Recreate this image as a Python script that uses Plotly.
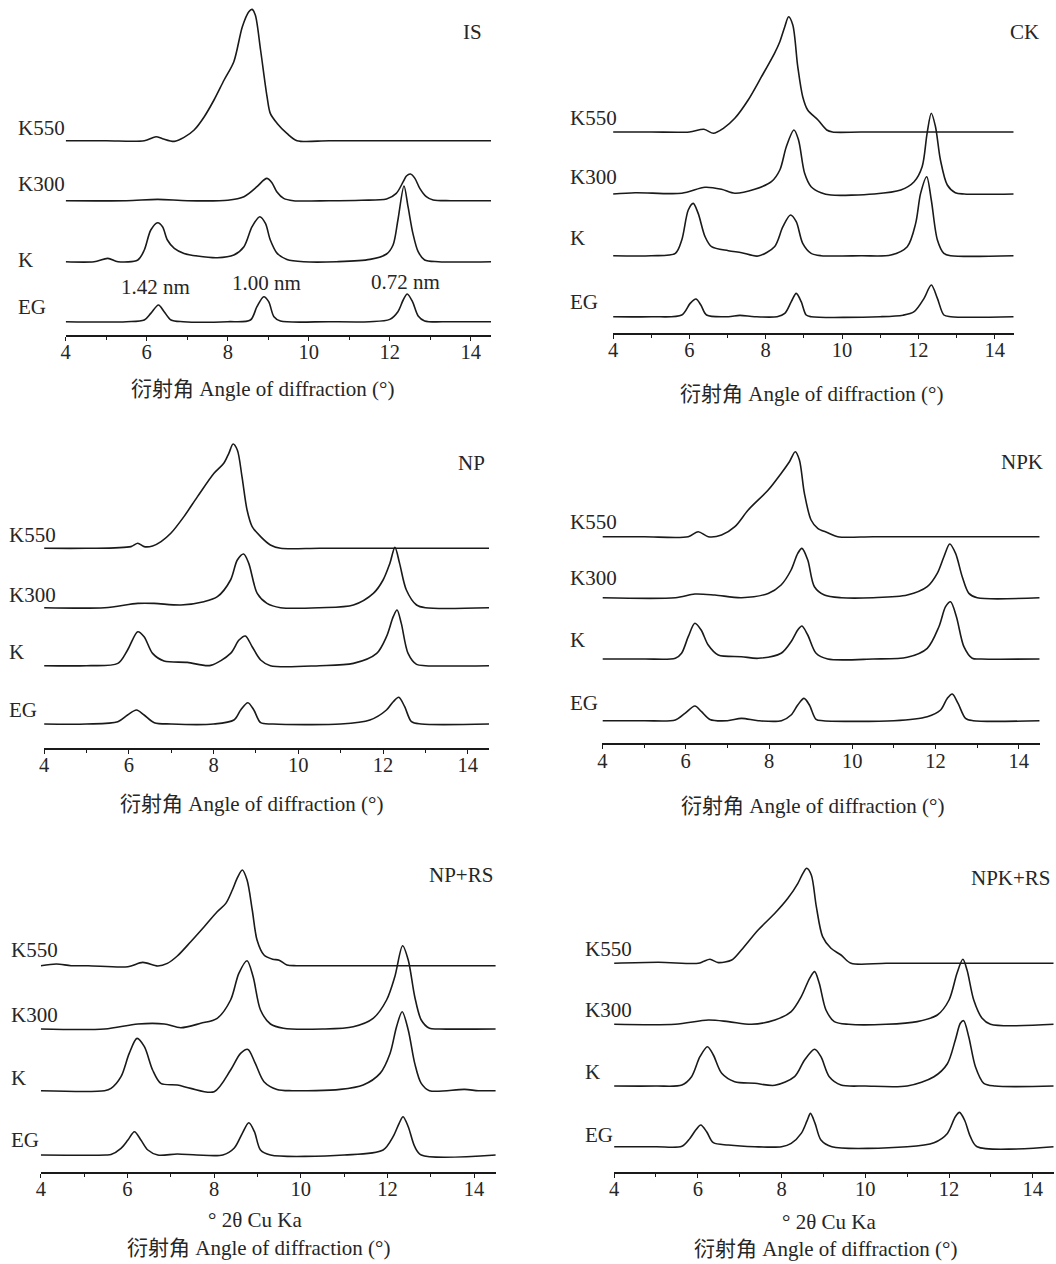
import plotly.graph_objects as go

# ---------------- data (2θ in degrees, intensity in arbitrary units above each trace baseline) -------------
SERIES = ["K550", "K300", "K", "EG"]
PANEL_NAMES = ["IS", "CK", "NP", "NPK", "NP+RS", "NPK+RS"]
X_TICKS = [4, 6, 8, 10, 12, 14]
D_SPACING = ["1.42 nm", "1.00 nm", "0.72 nm"]

IS_K550 = [(4.0,0),(5.0,0),(5.94,0),(6.23,4),(6.39,2),(6.68,-0.7),(6.92,3.3),(7.17,10.7),(7.42,24),(7.66,40.7),(7.91,60.7),(8.15,79),(8.36,114),(8.52,129),(8.6,131.3),(8.68,125.7),(8.81,90.7),(8.97,44),(9.05,27.3),(9.22,17.3),(9.46,7.3),(9.71,0),(10.5,0),(12.0,0),(13.5,0),(14.5,0)]
IS_K300 = [(4.0,0),(5.5,0),(6.27,1.3),(7.0,0),(8.0,0.5),(8.4,4),(8.72,14),(8.89,20.7),(8.97,22.3),(9.09,18),(9.21,9),(9.38,2.3),(9.62,0),(10.5,0),(11.3,0.5),(11.92,1.7),(12.16,7.3),(12.33,19),(12.41,24.7),(12.51,26.7),(12.62,22.3),(12.74,12.3),(12.9,4),(13.07,0.7),(13.5,0),(14.5,0)]
IS_K = [(4.0,0),(4.7,0),(5.04,3.3),(5.29,0),(5.78,1.7),(5.94,11.7),(6.1,31.7),(6.27,39),(6.39,35),(6.51,21.7),(6.68,13.3),(6.92,8.3),(7.25,5.7),(7.74,4),(8.15,6.7),(8.4,15),(8.6,35),(8.79,45),(8.93,38.3),(9.05,21.7),(9.22,8.3),(9.46,2.3),(9.87,0),(10.69,0),(11.51,2.3),(11.92,7.7),(12.08,16.7),(12.2,41.7),(12.35,75.7),(12.45,55),(12.57,28.3),(12.7,10),(12.86,1.7),(13.2,0),(14.5,0)]
IS_EG = [(4.0,0),(5.5,0),(5.94,1.7),(6.1,8.3),(6.29,16.7),(6.43,10),(6.6,1.7),(6.9,0),(8.0,0),(8.56,1.7),(8.72,15),(8.89,25),(9.01,20),(9.14,5),(9.3,0.7),(10.5,0),(11.5,0),(12.0,2.3),(12.2,10),(12.33,21.7),(12.43,27.7),(12.56,20),(12.7,5.7),(12.86,0.7),(13.5,0),(14.5,0)]
IS_BASE = [194.3, 134.3, 73.3, 13.3]

CK_K550 = [(4.0,0),(5.0,0),(6.0,0),(6.38,2.7),(6.63,-1.3),(6.89,3.7),(7.19,13.7),(7.54,32),(7.89,55.3),(8.23,78.7),(8.37,90.3),(8.5,105.3),(8.6,115.3),(8.71,107),(8.84,65.3),(8.97,35.3),(9.1,22),(9.37,12),(9.6,2),(9.75,0),(10.5,0),(12.0,0),(13.5,0),(14.5,0)]
CK_K300 = [(4.0,0),(4.58,1.3),(5.8,0.7),(6.41,6.7),(6.84,4.7),(7.19,0.7),(7.71,4.7),(8.15,12.3),(8.37,24),(8.54,47.3),(8.74,64),(8.86,54),(9.02,20.7),(9.19,7.3),(9.45,1.3),(9.71,-1),(10.84,0),(11.54,4),(11.89,12.3),(12.1,27.3),(12.23,60.7),(12.34,80.7),(12.45,67.3),(12.58,34),(12.76,9),(12.97,1.3),(13.2,0),(14.5,0)]
CK_K = [(4.0,0),(5.0,0),(5.63,2.3),(5.8,15.7),(5.97,45.7),(6.1,52.3),(6.23,42.3),(6.41,19),(6.58,9),(7.02,5),(7.37,3),(7.8,-0.3),(8.23,9),(8.45,29),(8.65,40.7),(8.8,34),(8.97,12.3),(9.19,2.3),(9.45,0),(10.5,0),(11.28,0.7),(11.71,9),(11.93,32.3),(12.06,62.3),(12.22,79),(12.34,55.7),(12.5,15.7),(12.67,2.3),(12.85,0),(14.5,0)]
CK_EG = [(4.0,0),(5.0,0),(5.8,1.7),(6.02,13.3),(6.17,17.7),(6.3,11.7),(6.45,1.7),(7.02,0),(7.32,1.3),(7.71,0),(8.3,0),(8.5,3.3),(8.67,15),(8.8,23.3),(8.93,15),(9.06,1.7),(9.19,0),(11.0,0),(11.6,1.5),(11.89,5),(12.15,18.3),(12.34,31.7),(12.5,18.3),(12.67,1.7),(12.85,0),(14.5,0)]
CK_BASE = [200.7, 138.7, 77.0, 16.0]

NP_K550 = [(4.0,0),(5.0,0),(6.05,1.7),(6.21,5),(6.36,1.7),(6.56,2.3),(6.76,6.7),(6.99,15),(7.3,31.7),(7.62,51.7),(8.01,75),(8.24,85),(8.36,95),(8.46,104.3),(8.56,98.3),(8.67,71.7),(8.79,38.3),(8.91,21.7),(9.11,11.7),(9.34,3.3),(9.58,0),(10.5,0),(12.0,0),(13.5,0),(14.5,0)]
NP_K300 = [(4.0,0),(5.43,0),(6.21,4.3),(6.6,4.3),(7.23,2.7),(7.77,6),(8.09,11),(8.4,27.7),(8.56,47.7),(8.71,53.7),(8.83,44.3),(9.03,14.3),(9.26,4.3),(9.58,0),(10.5,0),(11.3,2.7),(11.77,14.3),(12.0,27.7),(12.16,44.3),(12.28,60.3),(12.39,44.3),(12.55,17.7),(12.79,2.7),(13.0,0),(14.5,0)]
NP_K = [(4.0,0),(5.0,0),(5.74,2.3),(5.97,15.7),(6.21,34),(6.36,29),(6.56,12.3),(6.83,4.7),(7.38,3.3),(7.93,0.3),(8.4,12.3),(8.6,25.7),(8.75,29.7),(8.91,19),(9.11,5.7),(9.34,0),(10.5,0),(11.3,2.3),(11.85,12.3),(12.08,29),(12.24,49),(12.33,55.7),(12.43,42.3),(12.59,12.3),(12.79,1.3),(13.0,0),(14.5,0)]
NP_EG = [(4.0,0),(5.0,0),(5.74,2.3),(5.97,9),(6.18,14),(6.36,9),(6.6,1.3),(7.0,0),(8.0,0),(8.48,4),(8.64,14),(8.81,21.3),(8.95,14),(9.11,1.3),(9.4,0),(11.0,0),(11.69,4),(12.08,14),(12.24,22.3),(12.37,26.7),(12.51,17.3),(12.67,2.3),(12.9,0),(14.5,0)]
NP_BASE = [199.4, 140.0, 82.0, 23.7]

NPK_K550 = [(4.0,0),(5.0,0),(6.06,0),(6.3,5),(6.54,0),(6.86,1.7),(7.18,10),(7.5,26.7),(7.98,46.7),(8.29,63.3),(8.49,75),(8.63,85),(8.73,76.7),(8.85,43.3),(9.01,16.7),(9.17,8.3),(9.41,4),(9.65,0),(10.5,0),(12.0,0),(13.5,0),(14.5,0)]
NPK_K300 = [(4.0,0),(5.75,0),(6.22,3.7),(6.7,2.7),(7.34,0),(7.98,4.3),(8.29,12.7),(8.53,27.7),(8.69,44.3),(8.79,49.3),(8.93,37.7),(9.09,11),(9.33,2.7),(9.73,0),(10.5,0),(11.32,2.7),(11.8,11),(12.04,24.3),(12.2,41),(12.34,53.7),(12.48,44.3),(12.64,21),(12.8,4.3),(13.0,0),(14.5,0)]
NPK_K = [(4.0,0),(5.0,0),(5.75,0.7),(5.9,5.7),(6.06,22.3),(6.22,35.7),(6.37,29),(6.54,14),(6.78,4),(7.34,2.3),(7.74,0.7),(8.29,5.7),(8.53,17.3),(8.69,29),(8.79,33),(8.93,24),(9.13,5.7),(9.41,0),(10.5,0),(11.32,1.7),(11.8,10.7),(12.08,32.3),(12.24,52.3),(12.36,57.3),(12.5,42.3),(12.68,12.3),(12.88,0.7),(13.1,0),(14.5,0)]
NPK_EG = [(4.0,0),(5.0,0),(5.75,0.7),(5.98,7.3),(6.22,14.7),(6.38,9),(6.58,1.3),(7.0,0),(7.34,2.3),(7.74,0),(8.3,0),(8.53,5.7),(8.69,15.7),(8.84,22.3),(8.97,15.7),(9.13,1.3),(9.3,0),(11.0,0),(11.8,4),(12.12,10.7),(12.28,22.3),(12.4,26.7),(12.54,17.3),(12.72,2.3),(12.9,0),(14.5,0)]
NPK_BASE = [206.6, 145.6, 84.3, 22.6]

NPRS_K550 = [(4.0,0),(4.36,1.7),(4.7,0),(5.09,0),(6.01,-1),(6.35,3.3),(6.7,-0.3),(6.92,2.3),(7.15,9.7),(7.46,24),(7.77,39),(8.07,54),(8.27,62.3),(8.42,75.7),(8.53,87.3),(8.65,95.7),(8.76,85.7),(8.88,55.7),(8.99,25.7),(9.15,10.7),(9.35,6.5),(9.5,5.5),(9.68,0.7),(9.9,0),(10.5,0),(12.0,0),(13.5,0),(14.5,0)]
NPRS_K300 = [(4.0,0),(5.47,0),(6.24,5),(6.85,5),(7.23,1.3),(7.69,5.7),(8.07,10.7),(8.38,29),(8.57,55.7),(8.76,68.3),(8.9,52.3),(9.07,19),(9.3,5),(9.6,0.7),(10.5,0),(11.21,2.3),(11.67,10.7),(11.98,29),(12.17,52.3),(12.35,83.3),(12.48,69),(12.63,32.3),(12.78,9),(12.97,0.7),(13.2,0),(14.5,0)]
NPRS_K = [(4.0,0),(5.47,0),(5.62,2.3),(5.85,14),(6.04,37.3),(6.22,52.3),(6.39,44),(6.58,20.7),(6.77,7.3),(7.15,5.7),(7.46,2.3),(8.0,-1),(8.38,20.7),(8.61,37.3),(8.78,41.3),(8.95,27.3),(9.15,9),(9.45,1.3),(9.8,0),(10.91,1.3),(11.44,5.7),(11.83,17.3),(12.06,37.3),(12.21,64),(12.34,79),(12.48,60.7),(12.63,27.3),(12.78,7.3),(12.97,0),(13.78,1.3),(14.1,0),(14.5,0)]
NPRS_EG = [(4.0,0),(5.5,0),(5.62,0.5),(5.85,6.7),(6.01,15),(6.16,23.3),(6.31,15),(6.47,5),(6.7,0),(7.15,1),(7.6,0),(8.2,0),(8.46,6.7),(8.65,21.7),(8.8,32.3),(8.93,23.3),(9.07,5),(9.3,0),(11.0,0),(11.9,5),(12.13,18.3),(12.27,31.7),(12.36,38.3),(12.48,28.3),(12.63,8.3),(12.78,0),(14.5,0)]
NPRS_BASE = [206.0, 142.7, 81.0, 16.7]

NPKRS_K550 = [(4.0,0),(5.06,1),(6.01,0),(6.13,1.7),(6.29,4),(6.49,0.7),(6.81,3.3),(7.04,13.3),(7.44,33.3),(7.84,50),(8.15,65),(8.39,80),(8.51,90),(8.6,95),(8.71,88.3),(8.83,56.7),(8.98,26.7),(9.18,15),(9.42,8.3),(9.66,0),(10.5,0),(12.0,0),(13.5,0),(14.5,0)]
NPKRS_K300 = [(4.0,0),(5.46,0),(6.25,4.3),(6.73,2.7),(7.28,0),(7.84,4.3),(8.23,12.7),(8.47,27.7),(8.67,46),(8.79,52.7),(8.9,41),(9.06,14.3),(9.26,2.7),(9.6,0),(10.5,0),(11.24,2.7),(11.72,9.3),(12.0,24.3),(12.19,51),(12.33,65),(12.43,54.3),(12.59,24.3),(12.79,6),(12.99,0),(14.5,0)]
NPKRS_K = [(4.0,0),(5.0,0),(5.62,1),(5.85,9.3),(6.05,29.3),(6.23,39.3),(6.37,31),(6.57,12.7),(6.88,4.3),(7.36,2.7),(7.84,0.7),(8.31,9.3),(8.55,26),(8.79,36.7),(8.94,29.3),(9.14,9.3),(9.42,1),(10.0,0),(11.0,0),(11.64,9.3),(11.96,22.3),(12.15,46),(12.27,62.7),(12.35,65.3),(12.47,49.3),(12.63,19.3),(12.83,2.7),(13.1,0),(14.5,0)]
NPKRS_EG = [(4.0,0),(5.0,0),(5.62,0.5),(5.81,8.3),(5.95,16.7),(6.07,21.7),(6.21,15),(6.37,4),(6.73,1.7),(7.36,0),(8.0,0),(8.23,3.3),(8.47,13.3),(8.61,26),(8.69,33.3),(8.8,23.3),(8.94,6.7),(9.2,0),(11.0,0),(11.64,4),(11.96,13.3),(12.15,30),(12.25,34.3),(12.37,26.7),(12.51,10),(12.67,0),(14.5,0)]
NPKRS_BASE = [208.4, 147.4, 85.7, 25.0]

PANEL_TRACES = [
    ([IS_K550, IS_K300, IS_K, IS_EG], IS_BASE),
    ([CK_K550, CK_K300, CK_K, CK_EG], CK_BASE),
    ([NP_K550, NP_K300, NP_K, NP_EG], NP_BASE),
    ([NPK_K550, NPK_K300, NPK_K, NPK_EG], NPK_BASE),
    ([NPRS_K550, NPRS_K300, NPRS_K, NPRS_EG], NPRS_BASE),
    ([NPKRS_K550, NPKRS_K300, NPKRS_K, NPKRS_EG], NPKRS_BASE),
]

# ---------------- layout geometry (pixels) -------------
W, H = 1056, 1264
FONT = "Liberation Serif, Times New Roman, Noto Sans CJK SC, serif"
LINE = "#1a1a1a"
TXT = "#262626"
FS = 21
FS_TICK = 20.5

# x pixel of 2θ=4 and 2θ=14.5, pixel y of axis line, pixel y of plot top
GEOM = [
    dict(xl=61.0, xr=488.4, ay=335.0, top=0),
    dict(xl=611.0, xr=1013.5, ay=332.7, top=0),
    dict(xl=39.3, xr=486.3, ay=747.7, top=430),
    dict(xl=600.3, xr=1039.6, ay=743.3, top=430),
    dict(xl=36.0, xr=493.1, ay=1171.7, top=850),
    dict(xl=612.0, xr=1053.7, ay=1171.7, top=850),
]
# series label left x and center y's
LABELS = [
    (12.0, [128.3, 184.0, 260.0, 306.7]),
    (566.5, [118.3, 176.7, 238.3, 301.7]),
    (3.0, [535.0, 595.0, 651.7, 710.0]),
    (567.0, [521.7, 578.3, 640.0, 703.3]),
    (4.7, [950.0, 1015.0, 1078.3, 1140.0]),
    (581.5, [949.3, 1010.0, 1071.7, 1135.0]),
]
# panel name: right edge x, center y
NAME_POS = [(481, 31.7), (1041, 31.7), (484, 463.3), (1045, 461.7), (492.7, 875), (1052.7, 878.3)]
# x title center x, center y ; secondary title (bottom row)
XT_POS = [(259, 389), (810, 394), (247.5, 804), (811.7, 805.7), (255, 1248.3), (824, 1249.3)]
CU_POS = {4: (250.8, 1220), 5: (827.5, 1221.7)}
DS_POS = [(151.7, 287.5), (262.3, 283.0), (402.5, 281.7)]


def px(x):
    return x / W


def py(y):
    return 1 - y / H


fig = go.Figure()
layout = dict(
    width=W, height=H, margin=dict(l=0, r=0, t=0, b=0),
    paper_bgcolor="white", plot_bgcolor="rgba(0,0,0,0)", showlegend=False,
    font=dict(family=FONT, size=FS, color=TXT),
)
annotations = []

for i, ((curves, bases), g) in enumerate(zip(PANEL_TRACES, GEOM)):
    n = i + 1
    xa = "x" if n == 1 else f"x{n}"
    ya = "y" if n == 1 else f"y{n}"
    for pts, base, name in zip(curves, bases, SERIES):
        xs = [p[0] for p in pts]
        ys = [base + p[1] for p in pts]
        fig.add_trace(go.Scatter(
            x=xs, y=ys, mode="lines", name=name, xaxis=xa, yaxis=ya,
            line=dict(color=LINE, width=1.6, shape="spline", smoothing=0.85),
            hoverinfo="skip",
        ))
    hgt = g["ay"] - g["top"]
    layout["xaxis" if n == 1 else f"xaxis{n}"] = dict(
        domain=[px(g["xl"]), px(g["xr"])], anchor=ya, range=[4, 14.5],
        showline=True, linecolor=LINE, linewidth=1.6, showgrid=False, zeroline=False,
        tickmode="array", tickvals=X_TICKS, ticktext=[str(t) for t in X_TICKS],
        ticks="outside", ticklen=4, tickwidth=1.3, tickcolor=LINE,
        ticklabelstandoff=-6,
        tickfont=dict(family=FONT, size=FS_TICK, color=TXT),
        minor=dict(ticks="outside", ticklen=3, tickwidth=1.2, tickcolor=LINE, tickmode="linear", tick0=5, dtick=2),
        fixedrange=True,
    )
    layout["yaxis" if n == 1 else f"yaxis{n}"] = dict(
        domain=[py(g["ay"]), py(g["top"])], anchor=xa, range=[0, hgt],
        visible=False, fixedrange=True,
    )
    lx, lys = LABELS[i]
    for name, ly in zip(SERIES, lys):
        annotations.append(dict(x=px(lx), y=py(ly), xref="paper", yref="paper", text=name,
                                showarrow=False, xanchor="left", yanchor="middle", borderpad=0,
                                font=dict(family=FONT, size=FS, color=TXT)))
    nx, ny = NAME_POS[i]
    annotations.append(dict(x=px(nx), y=py(ny), xref="paper", yref="paper", text=PANEL_NAMES[i],
                            showarrow=False, xanchor="right", yanchor="middle",
                            font=dict(family=FONT, size=FS, color=TXT)))
    tx, ty = XT_POS[i]
    annotations.append(dict(x=px(tx), y=py(ty), xref="paper", yref="paper",
                            text="衍射角 Angle of diffraction (°)",
                            showarrow=False, xanchor="center", yanchor="middle",
                            font=dict(family=FONT, size=FS, color=TXT)))
    if i in CU_POS:
        cx, cy = CU_POS[i]
        annotations.append(dict(x=px(cx), y=py(cy), xref="paper", yref="paper",
                                text="° 2θ Cu Ka", showarrow=False, xanchor="center", yanchor="middle",
                                font=dict(family=FONT, size=FS, color=TXT)))

for txt, (dx, dy) in zip(D_SPACING, DS_POS):
    annotations.append(dict(x=px(dx), y=py(dy), xref="paper", yref="paper", text=txt,
                            showarrow=False, xanchor="center", yanchor="middle",
                            font=dict(family=FONT, size=FS, color=TXT)))

layout["annotations"] = annotations
fig.update_layout(**layout)
fig.write_html("out.html", config={"displayModeBar": False},
               post_script="document.body.style.margin='0';document.body.style.overflow='hidden';")
